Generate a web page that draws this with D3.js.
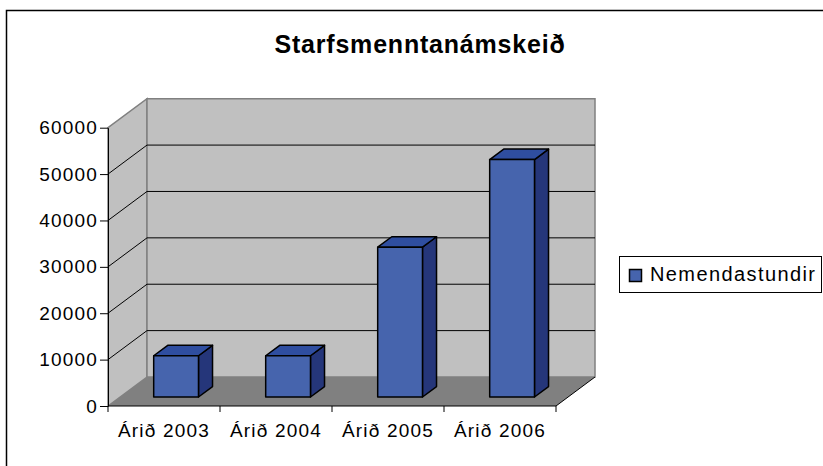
<!DOCTYPE html>
<html>
<head>
<meta charset="utf-8">
<script src="https://cdn.jsdelivr.net/npm/d3@7"></script>
<style>
  body { margin: 0; background: #fff; }
  text { font-family: "Liberation Sans", Arial, sans-serif; }
</style>
</head>
<body>
<div id="chart"></div>
<script>
const categories = ["Árið 2003", "Árið 2004", "Árið 2005", "Árið 2006"];
const seriesName = "Nemendastundir";
const values = [8900, 8900, 32300, 51200];
const yTicks = [0, 10000, 20000, 30000, 40000, 50000, 60000];
const title = "Starfsmenntanámskeið";

let W = 823, H = 466,
  plot = { left: 108, right: 556, bottom: 406, top: 127.7 },
  depth = { dx: 39, dy: -29 },
  barFront = 0.31, barBack = 0.67,
  colors = { front: "#4664ad", top: "#2f4ea0", side: "#25367a", wall: "#c0c0c0", floor: "#808080" };

let svg = d3.select("#chart").append("svg")
  .attr("width", W).attr("height", H);

// outer chart border
svg.append("rect")
  .attr("x", 6.5).attr("y", 10.5)
  .attr("width", 900).attr("height", 600)
  .attr("fill", "none").attr("stroke", "#000").attr("stroke-width", 1.5);

let xScale = d3.scaleBand().domain(categories).range([plot.left, plot.right]).padding(0);
let yScale = d3.scaleLinear().domain([0, 60000]).range([plot.bottom, plot.top]);

// project a point at depth fraction f (0 = front, 1 = back)
function P(x, y, f) {
  return [x + depth.dx * f, y + depth.dy * f];
}
function poly(pts) {
  return pts.map(p => p.join(",")).join(" ");
}

let y0 = yScale(0), yTop = yScale(60000);

// floor
svg.append("polygon")
  .attr("points", poly([P(plot.left, y0, 0), P(plot.right, y0, 0), P(plot.right, y0, 1), P(plot.left, y0, 1)]))
  .attr("fill", colors.floor);

// left wall
svg.append("polygon")
  .attr("points", poly([P(plot.left, y0, 0), P(plot.left, yTop, 0), P(plot.left, yTop, 1), P(plot.left, y0, 1)]))
  .attr("fill", colors.wall).attr("stroke", "#808080").attr("stroke-width", 1.5);

// back wall
svg.append("polygon")
  .attr("points", poly([P(plot.left, y0, 1), P(plot.left, yTop, 1), P(plot.right, yTop, 1), P(plot.right, y0, 1)]))
  .attr("fill", colors.wall).attr("stroke", "#808080").attr("stroke-width", 1.5);

// gridlines
let grid = svg.append("g").attr("stroke", "#000").attr("stroke-width", 1);
yTicks.slice(1, -1).forEach(t => {
  let a = P(plot.left, yScale(t), 0), b = P(plot.left, yScale(t), 1), c = P(plot.right, yScale(t), 1);
  grid.append("polyline").attr("points", poly([a, b, c])).attr("fill", "none");
});

// floor front/right edge
svg.append("polyline")
  .attr("points", poly([P(plot.left, y0, 0), P(plot.right, y0, 0), P(plot.right, y0, 1)]))
  .attr("fill", "none").attr("stroke", "#000").attr("stroke-width", 1);

// bars
let bw = xScale.bandwidth() / 2.5;
let bars = svg.selectAll(".bar")
  .data(categories.map((c, i) => ({ cat: c, v: values[i] })))
  .enter().append("g").attr("class", "bar")
  .attr("stroke", "#000").attr("stroke-width", 1.5).attr("stroke-linejoin", "round");

bars.each(function (d) {
  let g = d3.select(this);
  let x0 = xScale(d.cat) + (xScale.bandwidth() - bw) / 2, x1 = x0 + bw;
  let yb = yScale(0), yt = yScale(d.v);
  g.append("polygon")
    .attr("points", poly([P(x1, yb, barFront), P(x1, yb, barBack), P(x1, yt, barBack), P(x1, yt, barFront)]))
    .attr("fill", colors.side);
  g.append("polygon")
    .attr("points", poly([P(x0, yt, barFront), P(x1, yt, barFront), P(x1, yt, barBack), P(x0, yt, barBack)]))
    .attr("fill", colors.top);
  let a = P(x0, yt, barFront), b = P(x1, yb, barFront);
  g.append("rect")
    .attr("x", a[0]).attr("y", a[1])
    .attr("width", b[0] - a[0]).attr("height", b[1] - a[1])
    .attr("fill", colors.front);
});

// y axis
let yAxis = svg.append("g")
  .attr("transform", "translate(" + plot.left + ",0)")
  .call(d3.axisLeft(yScale).tickValues(yTicks).tickFormat(d3.format("d"))
    .tickSize(8).tickSizeOuter(0).tickPadding(2));
yAxis.select(".domain").attr("stroke", "#000");
yAxis.selectAll("text").style("font-size", "19px").style("letter-spacing", "1.2px").attr("fill", "#000")
  .style("font-family", "'Liberation Sans', Arial, sans-serif");

// x axis: boundary ticks + centred labels
let xAxis = svg.append("g");
let edges = categories.map(c => xScale(c)).concat([plot.right]);
xAxis.selectAll("line").data(edges).enter().append("line")
  .attr("x1", d => d).attr("x2", d => d)
  .attr("y1", y0).attr("y2", y0 + 6)
  .attr("stroke", "#000");
xAxis.selectAll("text").data(categories).enter().append("text")
  .attr("x", d => xScale(d) + xScale.bandwidth() / 2)
  .attr("y", 437)
  .attr("text-anchor", "middle")
  .style("font-size", "19px").style("letter-spacing", "1.2px")
  .text(d => d);

// title
svg.append("text")
  .attr("x", 420).attr("y", 53)
  .attr("text-anchor", "middle")
  .style("font-size", "25px").style("font-weight", "bold").style("letter-spacing", "0.8px")
  .text(title);

// legend
let legend = svg.append("g");
legend.append("rect")
  .attr("x", 619.5).attr("y", 256.5).attr("width", 202).attr("height", 36)
  .attr("fill", "#fff").attr("stroke", "#000").attr("stroke-width", 1);
legend.append("rect")
  .attr("x", 629.5).attr("y", 269.5).attr("width", 12).attr("height", 12)
  .attr("fill", colors.front).attr("stroke", "#000").attr("stroke-width", 1.5);
legend.append("text")
  .attr("x", 650).attr("y", 281)
  .style("font-size", "20px").style("letter-spacing", "1.4px")
  .text(seriesName);
</script>
</body>
</html>
